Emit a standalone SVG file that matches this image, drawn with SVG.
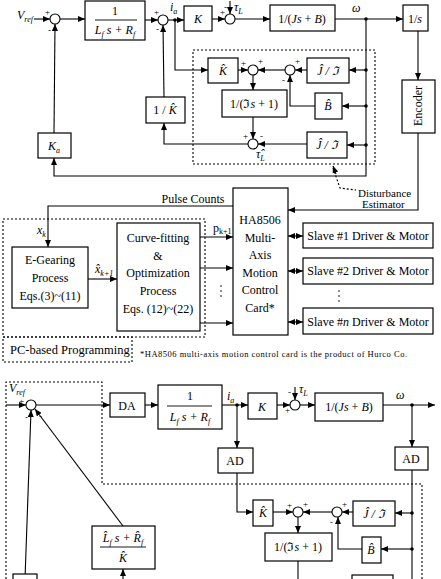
<svg xmlns="http://www.w3.org/2000/svg" width="441" height="579" viewBox="0 0 441 579">
<defs>
<marker id="a" markerUnits="userSpaceOnUse" markerWidth="7" markerHeight="6" refX="7" refY="3" orient="auto"><path d="M0,0 L7,3 L0,6 z" fill="#000"/></marker>
<marker id="b" markerUnits="userSpaceOnUse" markerWidth="7" markerHeight="6" refX="7" refY="3" orient="auto-start-reverse"><path d="M0,0 L7,3 L0,6 z" fill="#000"/></marker>
<style>
rect{fill:#fff;stroke:#000;stroke-width:1.2}
circle{fill:#fff;stroke:#000;stroke-width:1.1}
.c path,.c line,.c polyline{fill:none;stroke:#000;stroke-width:1.1}
.d{fill:none;stroke:#000;stroke-width:1.1;stroke-dasharray:2,2}
text{font-family:"Liberation Serif","Times New Roman",serif;font-size:12px;fill:#000}
.m{text-anchor:middle}
.i{font-style:italic}
.s{font-size:9px}
.sm{font-size:8px}
.dot{fill:#000;stroke:none}
</style>
</defs>
<rect x="0" y="0" width="441" height="579" style="fill:#fff;stroke:none"/>

<!-- dashed regions -->
<g id="dashed">
<rect x="193" y="50" width="182" height="114" class="d"/>
<rect x="3" y="219" width="202" height="118" class="d"/>
<rect x="3" y="337" width="129" height="25" class="d"/>
<polyline points="6,579 6,382 102,382 102,484 422,484 422,579" class="d"/>
<path d="M333,168 L340,188 L356,190" class="d"/>
</g>

<g class="c" id="connectors">
<!-- top diagram -->
<line x1="34" y1="19" x2="50" y2="19" marker-end="url(#a)"/>
<line x1="60" y1="19" x2="85" y2="19" marker-end="url(#a)"/>
<line x1="145" y1="20" x2="158" y2="20" marker-end="url(#a)"/>
<line x1="168" y1="20" x2="184" y2="20" marker-end="url(#a)"/>
<line x1="212" y1="19" x2="225" y2="19" marker-end="url(#a)"/>
<line x1="230" y1="1" x2="230" y2="14" marker-end="url(#a)"/>
<line x1="235" y1="19" x2="270" y2="19" marker-end="url(#a)"/>
<line x1="335" y1="19" x2="403" y2="19" marker-end="url(#a)"/>
<line x1="418" y1="31" x2="418" y2="80" marker-end="url(#a)"/>
<polyline points="418,133 418,210 288,210" marker-end="url(#a)"/>
<polyline points="366,19 366,176 54,176 54,158" marker-end="url(#a)"/>
<line x1="54" y1="133" x2="55" y2="24" marker-end="url(#a)"/>
<polyline points="175,20 175,70 208,70" marker-end="url(#a)"/>
<line x1="238" y1="70" x2="248" y2="70" marker-end="url(#a)"/>
<line x1="285" y1="70" x2="258" y2="70" marker-end="url(#a)"/>
<line x1="307" y1="70" x2="295" y2="70" marker-end="url(#a)"/>
<line x1="366" y1="70" x2="349" y2="70" marker-end="url(#a)"/>
<line x1="366" y1="106" x2="342" y2="106" marker-end="url(#a)"/>
<polyline points="315,106 290,106 290,75" marker-end="url(#a)"/>
<line x1="253" y1="75" x2="253" y2="90" marker-end="url(#a)"/>
<line x1="253" y1="117" x2="253" y2="139" marker-end="url(#a)"/>
<line x1="366" y1="145" x2="347" y2="145" marker-end="url(#a)"/>
<line x1="307" y1="144" x2="258" y2="144" marker-end="url(#a)"/>
<polyline points="248,144 164,144 164,123" marker-end="url(#a)"/>
<line x1="164" y1="97" x2="163" y2="25" marker-end="url(#a)"/>
<path d="M336,174 L333,166" marker-end="url(#a)"/>
<!-- middle -->
<polyline points="233,206 48,206 48,247" marker-end="url(#a)"/>
<line x1="88" y1="279" x2="117" y2="279" marker-end="url(#a)"/>
<line x1="200" y1="237" x2="233" y2="237" marker-end="url(#a)"/>
<line x1="200" y1="268" x2="233" y2="268" marker-end="url(#a)"/>
<line x1="200" y1="323" x2="233" y2="323" marker-end="url(#a)"/>
<line x1="288" y1="236" x2="303" y2="236" marker-start="url(#b)" marker-end="url(#b)"/>
<line x1="288" y1="271" x2="303" y2="271" marker-start="url(#b)" marker-end="url(#b)"/>
<line x1="288" y1="322" x2="303" y2="322" marker-start="url(#b)" marker-end="url(#b)"/>
<!-- bottom -->
<line x1="6" y1="405" x2="26" y2="405" marker-end="url(#a)"/>
<line x1="36" y1="405" x2="110" y2="405" marker-end="url(#a)"/>
<line x1="145" y1="405" x2="158" y2="405" marker-end="url(#a)"/>
<line x1="222" y1="405" x2="248" y2="405" marker-end="url(#a)"/>
<line x1="277" y1="405" x2="290" y2="405" marker-end="url(#a)"/>
<line x1="295" y1="387" x2="295" y2="400" marker-end="url(#a)"/>
<line x1="300" y1="405" x2="315" y2="405" marker-end="url(#a)"/>
<line x1="383" y1="405" x2="435" y2="405" marker-end="url(#a)"/>
<line x1="237" y1="405" x2="237" y2="448" marker-end="url(#a)"/>
<line x1="412" y1="405" x2="412" y2="447" marker-end="url(#a)"/>
<polyline points="237,473 237,512 253,512" marker-end="url(#a)"/>
<line x1="273" y1="512" x2="293" y2="512" marker-end="url(#a)"/>
<line x1="332" y1="512" x2="303" y2="512" marker-end="url(#a)"/>
<line x1="353" y1="512" x2="342" y2="512" marker-end="url(#a)"/>
<line x1="412" y1="470" x2="412" y2="579"/>
<line x1="412" y1="513" x2="395" y2="513" marker-end="url(#a)"/>
<line x1="412" y1="549" x2="381" y2="549" marker-end="url(#a)"/>
<polyline points="362,549 338,549 338,517" marker-end="url(#a)"/>
<line x1="298" y1="517" x2="298" y2="533" marker-end="url(#a)"/>
<line x1="298" y1="561" x2="298" y2="579"/>
<line x1="123" y1="579" x2="123" y2="569" marker-end="url(#a)"/>
<line x1="123" y1="526" x2="35" y2="409" marker-end="url(#a)"/>
<line x1="25" y1="579" x2="31" y2="410" marker-end="url(#a)"/>
</g>

<g id="dots">
<circle cx="175" cy="20" r="1.8" class="dot"/>
<circle cx="366" cy="19" r="1.8" class="dot"/>
<circle cx="366" cy="70" r="1.8" class="dot"/>
<circle cx="366" cy="106" r="1.8" class="dot"/>
<circle cx="366" cy="145" r="1.8" class="dot"/>
<circle cx="237" cy="405" r="1.8" class="dot"/>
<circle cx="412" cy="405" r="1.8" class="dot"/>
<circle cx="412" cy="513" r="1.8" class="dot"/>
<circle cx="412" cy="549" r="1.8" class="dot"/>
<circle cx="221" cy="286" r="0.8" class="dot"/><circle cx="221" cy="291" r="0.8" class="dot"/><circle cx="221" cy="296" r="0.8" class="dot"/>
<circle cx="339" cy="291" r="0.8" class="dot"/><circle cx="339" cy="296" r="0.8" class="dot"/><circle cx="339" cy="301" r="0.8" class="dot"/>
</g>

<!-- top diagram nodes -->
<g id="sum1"><circle cx="55" cy="19" r="5"/><text x="45" y="15" class="s">+</text><text x="48" y="33" class="s">-</text></g>
<g id="vref1"><text x="17" y="19" class="i">V<tspan class="sm" dy="3">ref</tspan></text></g>
<g id="plant1"><rect x="85" y="1" width="60" height="39"/><text x="115" y="15" class="m">1</text><line x1="95" y1="20" x2="137" y2="20" stroke="#000" stroke-width="0.9"/><text x="115" y="34" class="m i">L<tspan class="sm" dy="3">f</tspan><tspan dy="-3"> s + R</tspan><tspan class="sm" dy="3">f</tspan></text></g>
<g id="sum2"><circle cx="163" cy="20" r="5"/><text x="154" y="15" class="s">+</text><text x="156" y="32" class="s">-</text><text x="170" y="11" class="i">i<tspan class="sm" dy="3">a</tspan></text></g>
<g id="K1"><rect x="184" y="6" width="28" height="25"/><text x="198" y="23" class="m i">K</text></g>
<g id="sum3"><circle cx="230" cy="19" r="5"/><text x="220" y="15" class="s">+</text><text x="224" y="10" class="s">-</text><text x="234" y="11" class="i">τ<tspan class="sm" dy="3">L</tspan></text></g>
<g id="mech1"><rect x="270" y="5" width="65" height="26"/><text x="302" y="23" class="m">1/(<tspan class="i">Js</tspan> + <tspan class="i">B</tspan>)</text><text x="352" y="12" class="i">ω</text></g>
<g id="integ"><rect x="403" y="5" width="25" height="26"/><text x="415" y="23" class="m">1/<tspan class="i">s</tspan></text></g>
<g id="encoder"><rect x="402" y="80" width="33" height="53"/><text x="422" y="106" class="m" transform="rotate(-90 422 106)">Encoder</text></g>
<g id="Ka"><rect x="38" y="133" width="33" height="25"/><text x="54" y="150" class="m i">K<tspan class="sm" dy="3">a</tspan></text></g>
<g id="Khat1"><rect x="208" y="58" width="30" height="25"/><text x="223" y="75" class="m i">K̂</text></g>
<g id="sum4"><circle cx="253" cy="70" r="5"/><text x="241" y="66" class="s">+</text><text x="258" y="64" class="s">+</text></g>
<g id="sum5"><circle cx="290" cy="70" r="5"/><text x="295" y="64" class="s">+</text><text x="282" y="83" class="s">-</text></g>
<g id="Jhat1"><rect x="307" y="58" width="42" height="25"/><text x="328" y="75" class="m i">Ĵ / ℑ</text></g>
<g id="Bhat1"><rect x="315" y="93" width="27" height="26"/><text x="328" y="110" class="m i">B̂</text></g>
<g id="filter1"><rect x="222" y="90" width="65" height="27"/><text x="254" y="108" class="m">1/(ℑ<tspan class="i">s</tspan> + 1)</text></g>
<g id="sum6"><circle cx="253" cy="144" r="5"/><text x="243" y="139" class="s">+</text><text x="260" y="139" class="s">-</text><text x="256" y="158" class="i">τ̂<tspan class="sm" dy="3">L</tspan></text></g>
<g id="Jhat2"><rect x="307" y="132" width="40" height="26"/><text x="327" y="149" class="m i">Ĵ / ℑ</text></g>
<g id="invK"><rect x="146" y="97" width="39" height="26"/><text x="165" y="114" class="m">1 / <tspan class="i">K̂</tspan></text></g>
<g id="dist"><text x="358" y="197" style="font-size:11px">Disturbance</text><text x="362" y="208" style="font-size:11px">Estimator</text></g>

<!-- middle -->
<g id="pulse"><text x="193" y="203" class="m">Pulse Counts</text><text x="37" y="234" class="i">x<tspan class="sm" dy="3">k</tspan></text></g>
<g id="egear"><rect x="12" y="247" width="76" height="61"/><text x="50" y="264" class="m">E-Gearing</text><text x="50" y="282" class="m">Process</text><text x="50" y="300" class="m">Eqs.(3)~(11)</text><text x="95" y="273" class="i">x̂<tspan class="sm" dy="3">k+1</tspan></text></g>
<g id="curve"><rect x="117" y="223" width="83" height="108"/><text x="158" y="242" class="m">Curve-fitting</text><text x="158" y="260" class="m">&amp;</text><text x="158" y="277" class="m">Optimization</text><text x="158" y="295" class="m">Process</text><text x="158" y="313" class="m">Eqs. (12)~(22)</text><text x="213" y="232">p<tspan class="sm" dy="2">k+1</tspan></text></g>
<g id="ha8506"><rect x="233" y="188" width="55" height="147"/><text x="260" y="224" class="m">HA8506</text><text x="260" y="242" class="m">Multi-</text><text x="260" y="259" class="m">Axis</text><text x="260" y="277" class="m">Motion</text><text x="260" y="294" class="m">Control</text><text x="260" y="312" class="m">Card*</text></g>
<g id="slave1"><rect x="303" y="223" width="130" height="25"/><text x="368" y="240" class="m">Slave #1 Driver &amp; Motor</text></g>
<g id="slave2"><rect x="303" y="258" width="130" height="26"/><text x="368" y="275" class="m">Slave #2 Driver &amp; Motor</text></g>
<g id="slaven"><rect x="303" y="308" width="130" height="26"/><text x="368" y="326" class="m">Slave #<tspan class="i">n</tspan> Driver &amp; Motor</text></g>
<g id="pc"><text x="10" y="354" style="font-size:12.5px">PC-based Programming</text></g>
<g id="note"><text x="140" y="357" style="font-size:8.5px" textLength="267">*HA8506 multi-axis motion control card is the product of Hurco Co.</text></g>

<!-- bottom diagram -->
<g id="sum7"><circle cx="31" cy="405" r="5"/><text x="9" y="392" class="i">V<tspan class="sm" dy="3">ref</tspan></text><text x="19" y="404" class="s">+</text><text x="25" y="420" class="s">-</text><text x="39" y="419" class="s">-</text></g>
<g id="DA"><rect x="110" y="393" width="35" height="24"/><text x="127" y="410" class="m">DA</text></g>
<g id="plant2"><rect x="158" y="385" width="64" height="44"/><text x="190" y="400" class="m">1</text><line x1="167" y1="406" x2="212" y2="406" stroke="#000" stroke-width="0.9"/><text x="190" y="421" class="m i">L<tspan class="sm" dy="3">f</tspan><tspan dy="-3"> s + R</tspan><tspan class="sm" dy="3">f</tspan></text></g>
<g id="ia2"><text x="227" y="400" class="i">i<tspan class="sm" dy="3">a</tspan></text></g>
<g id="K2"><rect x="248" y="393" width="29" height="26"/><text x="262" y="411" class="m i">K</text></g>
<g id="sum8"><circle cx="295" cy="405" r="5"/><text x="285" y="413" class="s">+</text><text x="288" y="395" class="s">-</text><text x="299" y="393" class="i">τ<tspan class="sm" dy="3">L</tspan></text></g>
<g id="mech2"><rect x="315" y="393" width="68" height="28"/><text x="349" y="411" class="m">1/(<tspan class="i">Js</tspan> + <tspan class="i">B</tspan>)</text><text x="396" y="399" class="i">ω</text></g>
<g id="AD1"><rect x="218" y="448" width="35" height="25"/><text x="235" y="465" class="m">AD</text></g>
<g id="AD2"><rect x="395" y="447" width="33" height="23"/><text x="411" y="463" class="m">AD</text></g>
<g id="Khat2"><rect x="253" y="500" width="20" height="26"/><text x="263" y="517" class="m i">K̂</text></g>
<g id="sum9"><circle cx="298" cy="512" r="5"/><text x="287" y="508" class="s">+</text><text x="303" y="507" class="s">+</text></g>
<g id="sum10"><circle cx="337" cy="512" r="5"/><text x="342" y="507" class="s">+</text><text x="330" y="525" class="s">-</text></g>
<g id="Jhat3"><rect x="353" y="501" width="42" height="25"/><text x="374" y="518" class="m i">Ĵ / ℑ</text></g>
<g id="Bhat2"><rect x="362" y="537" width="19" height="26"/><text x="371" y="554" class="m i">B̂</text></g>
<g id="filter2"><rect x="265" y="533" width="67" height="28"/><text x="298" y="551" class="m">1/(ℑ<tspan class="i">s</tspan> + 1)</text></g>
<g id="box9"><rect x="352" y="575" width="41" height="20"/></g>
<g id="lrk"><rect x="92" y="526" width="63" height="43"/><text x="123" y="542" class="m i">L̂<tspan class="sm" dy="3">f</tspan><tspan dy="-3"> s + R̂</tspan><tspan class="sm" dy="3">f</tspan></text><line x1="100" y1="547" x2="146" y2="547" stroke="#000" stroke-width="0.9"/><text x="123" y="562" class="m i">K̂</text></g>
<g id="box10"><rect x="13" y="574" width="24" height="20"/></g>
</svg>
